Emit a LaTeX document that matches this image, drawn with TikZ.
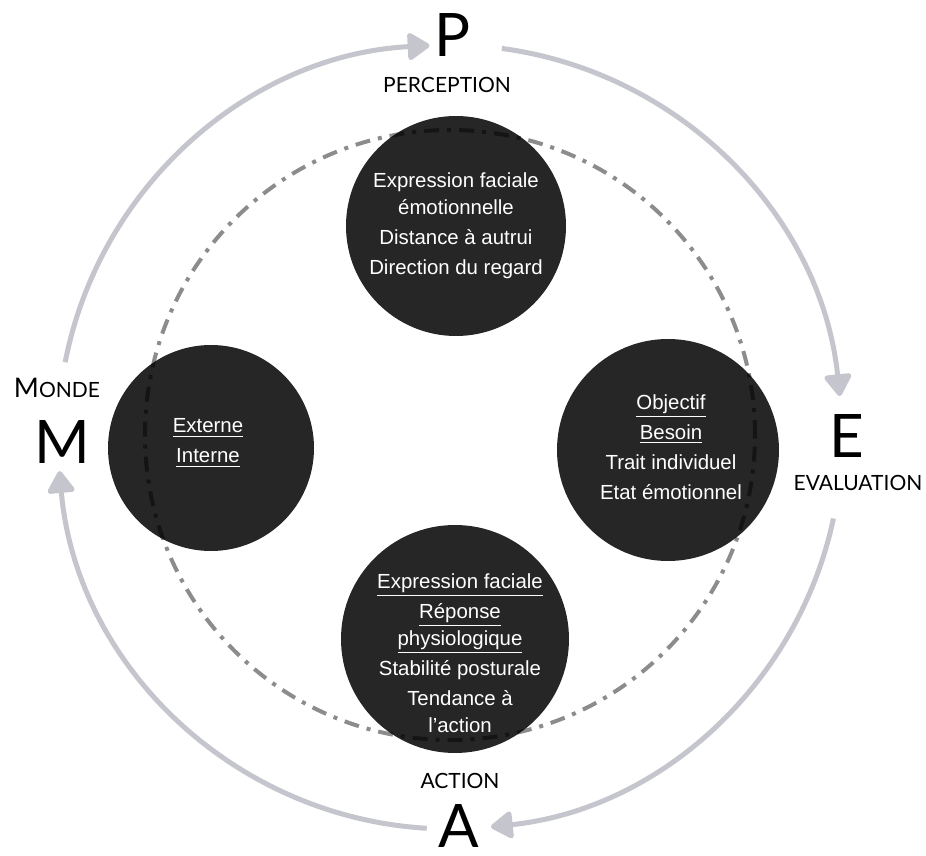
\documentclass[tikz,border=0pt]{standalone}
\usepackage{fontspec}
\setmainfont{Liberation Sans}
\newfontfamily\labelfont{Lato}
\usetikzlibrary{
    arrows.meta, % For the rounded triangle tips
    calc         % For shifting the text of the lower disc
}
\definecolor{cycleGray}{RGB}{196,197,205}
\definecolor{loopGray}{RGB}{140,140,140}
\tikzset{
    % Dark discs holding the cues
    dark_circle/.style={
        circle, fill=black, fill opacity=0.85, text opacity=1, inner sep=0pt
    },
    % White text inside the discs
    circle_text/.style={
        text=white, align=center, inner sep=0pt,
        font=\fontsize{10.2}{13.5}\selectfont
    },
    % Big letters of the cycle
    letter_node/.style={font=\labelfont\fontsize{30}{30}\selectfont, inner sep=0pt},
    % Small capital labels under or over the letters
    stage_label/.style={font=\labelfont\fontsize{10.5}{12}\selectfont, inner sep=0pt},
    % Arrow styles
    cycle_arrow/.style={draw=cycleGray, line width=2.5pt, -{Triangle[length=12pt,width=15pt,round]}},
    inner_loop/.style={draw=loopGray, line width=2pt, dash pattern=on 7.5pt off 4pt on 2pt off 4pt}
}

\begin{document}
\begin{tikzpicture}[x=0.5pt, y=0.5pt]
\useasboundingbox (-450,-419) rectangle (476,437);

% --- INNER DASHED LOOP ---
\draw[inner_loop] (0,2) circle[radius=305];

% --- DISCS ---
\node[dark_circle, minimum size=110pt] (perc_circle) at (6,211) {};
\node[dark_circle, minimum size=103pt] (monde_circle) at (-239,-11) {};
\node[dark_circle, minimum size=111pt] (eval_circle) at (218,-13) {};
\node[dark_circle, minimum size=114pt] (act_circle) at (5,-202) {};

\node[circle_text] (perc_text) at (perc_circle) {
    Expression faciale\\émotionnelle\\[1.5pt]
    Distance à autrui\\[1.5pt]
    Direction du regard
};
\node[circle_text] (monde_text) at ($(monde_circle)+(-3,5)$) {
    \underline{Externe}\\[1.5pt]
    \underline{Interne}
};
\node[circle_text] (eval_text) at ($(eval_circle)+(3,3)$) {
    \underline{Objectif}\\[1.5pt]
    \underline{Besoin}\\[1.5pt]
    Trait individuel\\[1.5pt]
    Etat émotionnel
};
\node[circle_text] (act_text) at ($(act_circle)+(5,-14)$) {
    \underline{Expression faciale}\\[1.5pt]
    \underline{Réponse}\\\underline{physiologique}\\[1.5pt]
    Stabilité posturale\\[1.5pt]
    Tendance à\\l’action
};

% --- LETTERS AND LABELS ---
\node[letter_node] (P) at (3,402) {P};
\node[stage_label] (perc_label) at (-3,352) {PERCEPTION};
\node[letter_node] (E) at (397,1) {E};
\node[stage_label] (eval_label) at (408,-46) {EVALUATION};
\node[letter_node] (A) at (9,-389) {A};
\node[stage_label] (act_label) at (10,-344) {ACTION};
\node[letter_node] (M) at (-388,-5) {M};
\node[stage_label] (monde_label) at (-393,49) {{\fontsize{13.5}{13.5}\selectfont M}ONDE};

% --- CYCLE ARROWS ---
\coordinate (mp_start) at (169:392);
\coordinate (pe_start) at (82.4:392);
\coordinate (ea_start) at (-12:392);
\coordinate (am_start) at (266.6:392);

\draw[cycle_arrow] (mp_start) arc[start angle=169, end angle=93, radius=392];
\draw[cycle_arrow] (pe_start) arc[start angle=82.4, end angle=6, radius=392];
\draw[cycle_arrow] (ea_start) arc[start angle=-12, end angle=-84, radius=392];
\draw[cycle_arrow] (am_start) arc[start angle=266.6, end angle=185, radius=392];

\end{tikzpicture}
\end{document}
